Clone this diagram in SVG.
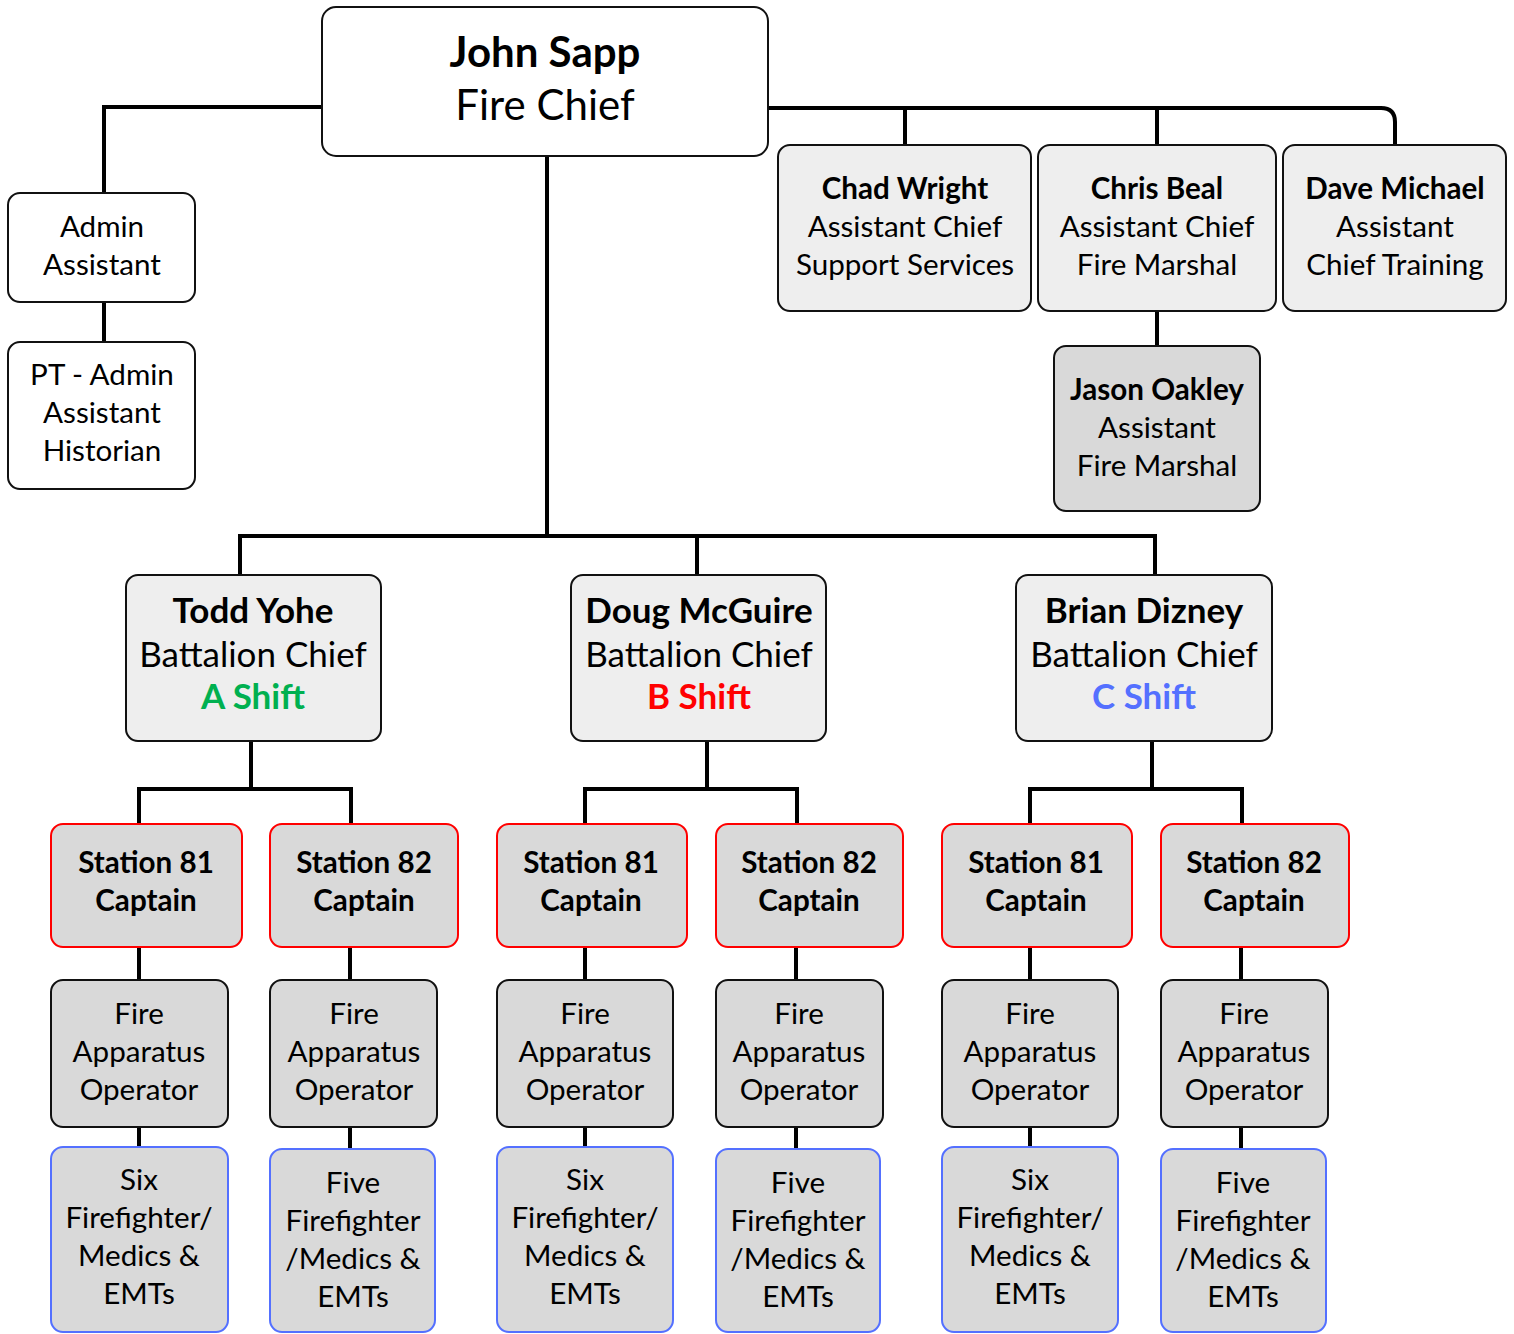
<svg xmlns="http://www.w3.org/2000/svg" width="1514" height="1334" viewBox="0 0 1514 1334">
<style>
.box{stroke:#111;stroke-width:2}
.w{fill:#fff}
.l{fill:#eeeeee}
.d{fill:#d9d9d9}
.red{stroke:#ff0000}
.blue{stroke:#5470ff}
text{font-family:Lato,"Liberation Sans",sans-serif;text-anchor:middle;fill:#000}
.t42{font-size:42px}
.t35{font-size:35px}
.t30{font-size:29.6px}
.b{font-weight:bold}
.conn path{stroke:#000;stroke-width:4;fill:none}
</style>
<rect width="1514" height="1334" fill="#fff"/>
<g class="conn">
<path d="M322 107H104V193"/>
<path d="M104 302V342"/>
<path d="M768 108H1381Q1395 108 1395 122V145"/>
<path d="M905 108V145M1157 108V145"/>
<path d="M1157 311V346"/>
<path d="M547 156V536M238 536H1157M240 536V575M697 536V575M1155 536V575"/>
<path d="M251 741V789M137 789H353M139 789V824M351 789V824"/>
<path d="M707 741V789M583 789H799M585 789V824M797 789V824"/>
<path d="M1152 741V789M1028 789H1244M1030 789V824M1242 789V824"/>
<path d="M139 947V980M139 1127V1147M350 947V980M350 1127V1149"/>
<path d="M585 947V980M585 1127V1147M796 947V980M796 1127V1149"/>
<path d="M1030 947V980M1030 1127V1147M1241 947V980M1241 1127V1149"/>
</g>
<g id="chief"><rect class="box w" x="322" y="7" width="446" height="149" rx="14"/><text class="t42 b" x="545" y="67">John Sapp</text><text class="t42" x="545" y="120">Fire Chief</text></g>
<g id="admin"><rect class="box w" x="8" y="193" width="187" height="109" rx="12"/><text class="t30" x="102" y="237">Admin</text><text class="t30" x="102" y="275">Assistant</text></g>
<g id="ptadmin"><rect class="box w" x="8" y="342" width="187" height="147" rx="12"/><text class="t30" x="102" y="385">PT - Admin</text><text class="t30" x="102" y="423">Assistant</text><text class="t30" x="102" y="461">Historian</text></g>
<g id="chad"><rect class="box l" x="778" y="145" width="253" height="166" rx="12"/><text class="t30 b" x="905" y="199">Chad Wright</text><text class="t30" x="905" y="237">Assistant Chief</text><text class="t30" x="905" y="275">Support Services</text></g>
<g id="chris"><rect class="box l" x="1038" y="145" width="238" height="166" rx="12"/><text class="t30 b" x="1157" y="199">Chris Beal</text><text class="t30" x="1157" y="237">Assistant Chief</text><text class="t30" x="1157" y="275">Fire Marshal</text></g>
<g id="dave"><rect class="box l" x="1283" y="145" width="223" height="166" rx="12"/><text class="t30 b" x="1395" y="199">Dave Michael</text><text class="t30" x="1395" y="237">Assistant</text><text class="t30" x="1395" y="275">Chief Training</text></g>
<g id="jason"><rect class="box d" x="1054" y="346" width="206" height="165" rx="12"/><text class="t30 b" x="1157" y="400">Jason Oakley</text><text class="t30" x="1157" y="438">Assistant</text><text class="t30" x="1157" y="476">Fire Marshal</text></g>
<g id="todd"><rect class="box l" x="126" y="575" width="255" height="166" rx="12"/><text class="t35 b" x="253" y="623">Todd Yohe</text><text class="t35" x="253" y="667">Battalion Chief</text><text class="t35 b" x="253" y="709" style="fill:#00b050">A Shift</text></g>
<g id="doug"><rect class="box l" x="571" y="575" width="255" height="166" rx="12"/><text class="t35 b" x="699" y="623">Doug McGuire</text><text class="t35" x="699" y="667">Battalion Chief</text><text class="t35 b" x="699" y="709" style="fill:#ff0000">B Shift</text></g>
<g id="brian"><rect class="box l" x="1016" y="575" width="256" height="166" rx="12"/><text class="t35 b" x="1144" y="623">Brian Dizney</text><text class="t35" x="1144" y="667">Battalion Chief</text><text class="t35 b" x="1144" y="709" style="fill:#5470ff">C Shift</text></g>
<g id="capA81"><rect class="box d red" x="51" y="824" width="191" height="123" rx="12"/><text class="t30 b" x="146" y="873">Station 81</text><text class="t30 b" x="146" y="911">Captain</text></g>
<g id="capA82"><rect class="box d red" x="270" y="824" width="188" height="123" rx="12"/><text class="t30 b" x="364" y="873">Station 82</text><text class="t30 b" x="364" y="911">Captain</text></g>
<g id="capB81"><rect class="box d red" x="497" y="824" width="190" height="123" rx="12"/><text class="t30 b" x="591" y="873">Station 81</text><text class="t30 b" x="591" y="911">Captain</text></g>
<g id="capB82"><rect class="box d red" x="716" y="824" width="187" height="123" rx="12"/><text class="t30 b" x="809" y="873">Station 82</text><text class="t30 b" x="809" y="911">Captain</text></g>
<g id="capC81"><rect class="box d red" x="942" y="824" width="190" height="123" rx="12"/><text class="t30 b" x="1036" y="873">Station 81</text><text class="t30 b" x="1036" y="911">Captain</text></g>
<g id="capC82"><rect class="box d red" x="1161" y="824" width="188" height="123" rx="12"/><text class="t30 b" x="1254" y="873">Station 82</text><text class="t30 b" x="1254" y="911">Captain</text></g>
<g id="faoA81"><rect class="box d" x="51" y="980" width="177" height="147" rx="12"/><text class="t30" x="139" y="1024">Fire</text><text class="t30" x="139" y="1062">Apparatus</text><text class="t30" x="139" y="1100">Operator</text></g>
<g id="faoA82"><rect class="box d" x="270" y="980" width="167" height="147" rx="12"/><text class="t30" x="354" y="1024">Fire</text><text class="t30" x="354" y="1062">Apparatus</text><text class="t30" x="354" y="1100">Operator</text></g>
<g id="faoB81"><rect class="box d" x="497" y="980" width="176" height="147" rx="12"/><text class="t30" x="585" y="1024">Fire</text><text class="t30" x="585" y="1062">Apparatus</text><text class="t30" x="585" y="1100">Operator</text></g>
<g id="faoB82"><rect class="box d" x="716" y="980" width="167" height="147" rx="12"/><text class="t30" x="799" y="1024">Fire</text><text class="t30" x="799" y="1062">Apparatus</text><text class="t30" x="799" y="1100">Operator</text></g>
<g id="faoC81"><rect class="box d" x="942" y="980" width="176" height="147" rx="12"/><text class="t30" x="1030" y="1024">Fire</text><text class="t30" x="1030" y="1062">Apparatus</text><text class="t30" x="1030" y="1100">Operator</text></g>
<g id="faoC82"><rect class="box d" x="1161" y="980" width="167" height="147" rx="12"/><text class="t30" x="1244" y="1024">Fire</text><text class="t30" x="1244" y="1062">Apparatus</text><text class="t30" x="1244" y="1100">Operator</text></g>
<g id="ffA81"><rect class="box d blue" x="51" y="1147" width="177" height="185" rx="12"/><text class="t30" x="139" y="1190">Six</text><text class="t30" x="139" y="1228">Firefighter/</text><text class="t30" x="139" y="1266">Medics &amp;</text><text class="t30" x="139" y="1304">EMTs</text></g>
<g id="ffA82"><rect class="box d blue" x="270" y="1149" width="165" height="183" rx="12"/><text class="t30" x="353" y="1193">Five</text><text class="t30" x="353" y="1231">Firefighter</text><text class="t30" x="353" y="1269">/Medics &amp;</text><text class="t30" x="353" y="1307">EMTs</text></g>
<g id="ffB81"><rect class="box d blue" x="497" y="1147" width="176" height="185" rx="12"/><text class="t30" x="585" y="1190">Six</text><text class="t30" x="585" y="1228">Firefighter/</text><text class="t30" x="585" y="1266">Medics &amp;</text><text class="t30" x="585" y="1304">EMTs</text></g>
<g id="ffB82"><rect class="box d blue" x="716" y="1149" width="164" height="183" rx="12"/><text class="t30" x="798" y="1193">Five</text><text class="t30" x="798" y="1231">Firefighter</text><text class="t30" x="798" y="1269">/Medics &amp;</text><text class="t30" x="798" y="1307">EMTs</text></g>
<g id="ffC81"><rect class="box d blue" x="942" y="1147" width="176" height="185" rx="12"/><text class="t30" x="1030" y="1190">Six</text><text class="t30" x="1030" y="1228">Firefighter/</text><text class="t30" x="1030" y="1266">Medics &amp;</text><text class="t30" x="1030" y="1304">EMTs</text></g>
<g id="ffC82"><rect class="box d blue" x="1161" y="1149" width="165" height="183" rx="12"/><text class="t30" x="1243" y="1193">Five</text><text class="t30" x="1243" y="1231">Firefighter</text><text class="t30" x="1243" y="1269">/Medics &amp;</text><text class="t30" x="1243" y="1307">EMTs</text></g>
</svg>
